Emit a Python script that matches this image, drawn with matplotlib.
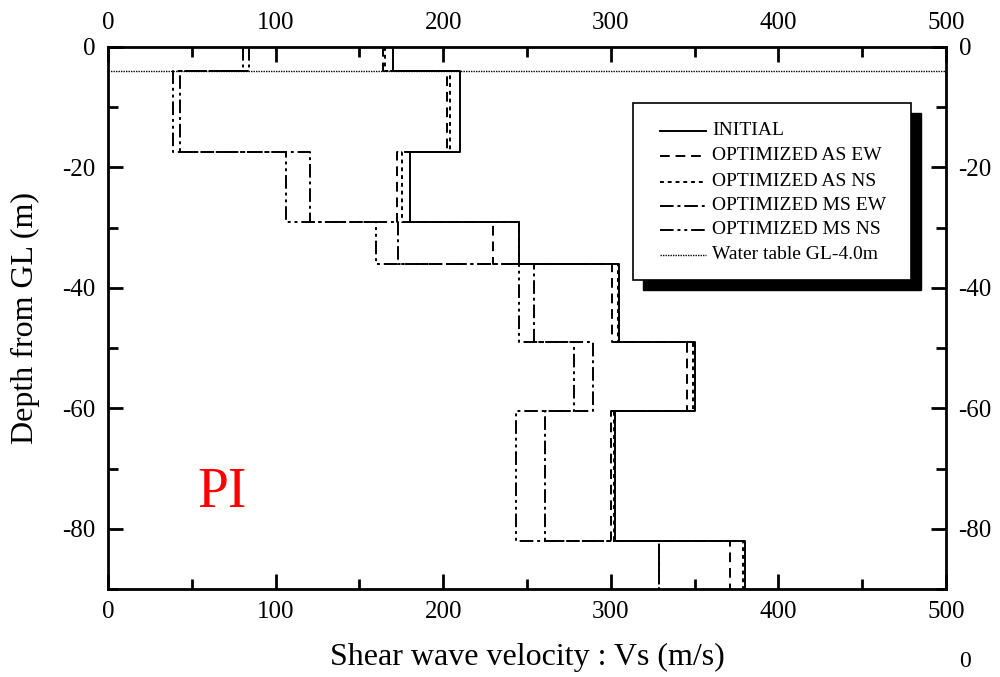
import numpy as np
import matplotlib
matplotlib.use("Agg")
import matplotlib.pyplot as plt
from matplotlib.patches import Rectangle
from matplotlib.ticker import MultipleLocator

plt.rcParams['font.family'] = ['Liberation Serif', 'DejaVu Serif']

# Layer boundaries (depth below ground level, m)
layer_bounds = [0, 4, 17.5, 29, 36, 49, 60.5, 82, 90]

# Shear wave velocity per layer (m/s)
vs_initial = [170, 210, 180, 245, 305, 350, 302.5, 380]
vs_as_ew = [164, 202, 172.5, 230, 301, 345.5, 300, 371]
vs_as_ns = [165.5, 204, 175.5, 245, 304, 349, 302, 379]
vs_ms_ew = [84, 43, 120.5, 173, 254, 289.5, 261, 329]
vs_ms_ns = [80.5, 39, 106, 160, 245, 278, 243.5, 329]

water_table = -4.0

series_labels = ["INITIAL", "OPTIMIZED AS EW", "OPTIMIZED AS NS",
                 "OPTIMIZED MS EW", "OPTIMIZED MS NS", "Water table GL-4.0m"]

styles = [
    dict(ls='-', lw=1.4),
    dict(ls=(0, (5, 3)), lw=1.4),
    dict(ls=(0, (2, 2)), lw=1.4),
    dict(ls=(0, (7, 2, 1.5, 2)), lw=1.4),
    dict(ls=(0, (7, 2, 1.5, 2, 1.5, 2)), lw=1.4),
]
wt_style = dict(ls=(0, (1, 0.8)), lw=1.0)


def profile(values, bounds):
    """Stepped Vs-depth profile: vertical segment per layer."""
    xs = np.repeat(values, 2)
    ys = -np.array([b for i in range(len(values)) for b in (bounds[i], bounds[i + 1])])
    return xs, ys


fig = plt.figure(figsize=(10, 6.77), dpi=100)
ax = fig.add_axes([0.108, 0.130, 0.838, 0.8006])

all_series = [vs_initial, vs_as_ew, vs_as_ns, vs_ms_ew, vs_ms_ns]
for vals, st in zip(all_series[::-1], styles[::-1]):
    xs, ys = profile(vals, layer_bounds)
    ax.plot(xs, ys, color='black', **st)

ax.axhline(water_table, color='black', **wt_style)

ax.set_xlim(0, 500)
ax.set_ylim(-90, 0)

ax.xaxis.set_major_locator(MultipleLocator(100))
ax.xaxis.set_minor_locator(MultipleLocator(50))
ax.yaxis.set_major_locator(MultipleLocator(20))
ax.yaxis.set_minor_locator(MultipleLocator(10))
ax.tick_params(which='both', direction='in', top=True, right=True,
               labeltop=True, labelright=True, labelsize=18, width=2, pad=9)
ax.tick_params(which='major', length=11)
ax.tick_params(which='minor', length=7)
for s in ax.spines.values():
    s.set_linewidth(2)

ax.set_yticks([-80, -60, -40, -20, 0])
ax.set_yticklabels(['-80', '-60', '-40', '-20', '0'])

ax.set_xlabel("Shear wave velocity : Vs (m/s)", fontsize=23, labelpad=14)
ax.set_ylabel("Depth from GL (m)", fontsize=23, labelpad=16)

ax.text(68, -74, "PI", color='red', fontsize=40, ha='center', va='center')

# Legend box with solid black drop shadow
px2ax_x = lambda px: (px - 108) / 838
px2ax_y = lambda py: (589 - py) / 542
bx0, bx1, by0, by1 = px2ax_x(633), px2ax_x(911), px2ax_y(280), px2ax_y(103)
off_x, off_y = 10 / 838, 10 / 542
ax.add_patch(Rectangle((bx0 + off_x, by0 - off_y), bx1 - bx0, by1 - by0,
                       transform=ax.transAxes, facecolor='black',
                       edgecolor='black', zorder=5))
ax.add_patch(Rectangle((bx0, by0), bx1 - bx0, by1 - by0,
                       transform=ax.transAxes, facecolor='white',
                       edgecolor='black', lw=1.2, zorder=6))
row_px = [131, 156, 182, 206, 230, 255]
for i, (lab, ypx) in enumerate(zip(series_labels, row_px)):
    st = styles[i] if i < 5 else wt_style
    yy = px2ax_y(ypx)
    ax.plot([px2ax_x(660), px2ax_x(706)], [yy, yy], color='black',
            transform=ax.transAxes, zorder=7, **st)
    ax.text(px2ax_x(712), yy, lab, transform=ax.transAxes, fontsize=14,
            va='center', ha='left', zorder=7)

fig.text(0.965, 0.008, "0", fontsize=17, ha='center', va='bottom')

fig.savefig("out.png", dpi=100)
